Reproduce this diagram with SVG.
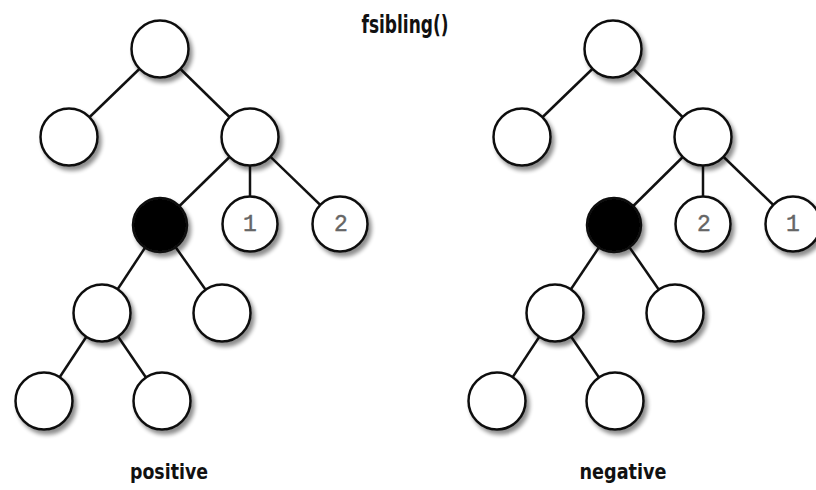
<svg xmlns="http://www.w3.org/2000/svg" width="816" height="490" viewBox="0 0 816 490">
  <defs>
    <filter id="sh" x="-30%" y="-30%" width="170%" height="170%">
      <feGaussianBlur in="SourceAlpha" stdDeviation="2"/>
      <feOffset dx="3" dy="4" result="b"/>
      <feComponentTransfer><feFuncA type="linear" slope="0.45"/></feComponentTransfer>
      <feMerge><feMergeNode/><feMergeNode in="SourceGraphic"/></feMerge>
    </filter>
  </defs>
  <style>
    .edge { stroke: #111; stroke-width: 2.5; fill: none; }
    .node { fill: #fff; stroke: #111; stroke-width: 2.5; filter: url(#sh); }
    .black { fill: #000; stroke: #111; stroke-width: 2.5; filter: url(#sh); }
    .num { font-family: "Liberation Mono", "DejaVu Sans Mono", monospace; font-size: 23px; fill: #666; stroke: #666; stroke-width: 0.4; text-anchor: middle; }
    .title { font-family: "DejaVu Sans Condensed", "DejaVu Sans", sans-serif; font-weight: bold; fill: #111; text-anchor: middle; }
  </style>
  <rect width="816" height="490" fill="#fff"/>
  <g id="connectors">
    <line class="edge" x1="160" y1="49" x2="69" y2="137"/>
    <line class="edge" x1="160" y1="49" x2="250" y2="137"/>
    <line class="edge" x1="250" y1="137" x2="160" y2="225"/>
    <line class="edge" x1="250" y1="137" x2="250" y2="224"/>
    <line class="edge" x1="250" y1="137" x2="340" y2="224"/>
    <line class="edge" x1="160" y1="225" x2="102" y2="313"/>
    <line class="edge" x1="160" y1="225" x2="222" y2="313"/>
    <line class="edge" x1="102" y1="313" x2="44" y2="401"/>
    <line class="edge" x1="102" y1="313" x2="162" y2="401"/>

    <line class="edge" x1="613" y1="49" x2="522" y2="137"/>
    <line class="edge" x1="613" y1="49" x2="703" y2="137"/>
    <line class="edge" x1="703" y1="137" x2="614" y2="225"/>
    <line class="edge" x1="703" y1="137" x2="703" y2="224"/>
    <line class="edge" x1="703" y1="137" x2="793" y2="224"/>
    <line class="edge" x1="614" y1="225" x2="555" y2="313"/>
    <line class="edge" x1="614" y1="225" x2="675" y2="313"/>
    <line class="edge" x1="555" y1="313" x2="497" y2="401"/>
    <line class="edge" x1="555" y1="313" x2="615" y2="401"/>
  </g>

  <g id="L-root"><circle class="node" cx="160" cy="49" r="28.5"/></g>
  <g id="L-a"><circle class="node" cx="69" cy="137" r="28.5"/></g>
  <g id="L-b"><circle class="node" cx="250" cy="137" r="28.5"/></g>
  <g id="L-cur"><circle class="black" cx="160" cy="225" r="27"/></g>
  <g id="L-1"><circle class="node" cx="250" cy="224" r="27.5"/><text class="num" x="250" y="231">1</text></g>
  <g id="L-2"><circle class="node" cx="340" cy="224" r="27.5"/><text class="num" x="341" y="231">2</text></g>
  <g id="L-c"><circle class="node" cx="102" cy="313" r="28.5"/></g>
  <g id="L-d"><circle class="node" cx="222" cy="313" r="28.5"/></g>
  <g id="L-e"><circle class="node" cx="44" cy="401" r="28.5"/></g>
  <g id="L-f"><circle class="node" cx="162" cy="401" r="28.5"/></g>

  <g id="R-root"><circle class="node" cx="613" cy="49" r="28.5"/></g>
  <g id="R-a"><circle class="node" cx="522" cy="137" r="28.5"/></g>
  <g id="R-b"><circle class="node" cx="703" cy="137" r="28.5"/></g>
  <g id="R-cur"><circle class="black" cx="614" cy="225" r="27"/></g>
  <g id="R-2"><circle class="node" cx="703" cy="224" r="27.5"/><text class="num" x="704" y="231">2</text></g>
  <g id="R-1"><circle class="node" cx="793" cy="224" r="27.5"/><text class="num" x="793" y="231">1</text></g>
  <g id="R-c"><circle class="node" cx="555" cy="313" r="28.5"/></g>
  <g id="R-d"><circle class="node" cx="675" cy="313" r="28.5"/></g>
  <g id="R-e"><circle class="node" cx="497" cy="401" r="28.5"/></g>
  <g id="R-f"><circle class="node" cx="615" cy="401" r="28.5"/></g>

  <text class="title" x="405" y="33" font-size="24" textLength="87" lengthAdjust="spacingAndGlyphs">fsibling()</text>
  <text class="title" x="169" y="479" font-size="22" textLength="78" lengthAdjust="spacingAndGlyphs">positive</text>
  <text class="title" x="623" y="479" font-size="22" textLength="87" lengthAdjust="spacingAndGlyphs">negative</text>
</svg>
